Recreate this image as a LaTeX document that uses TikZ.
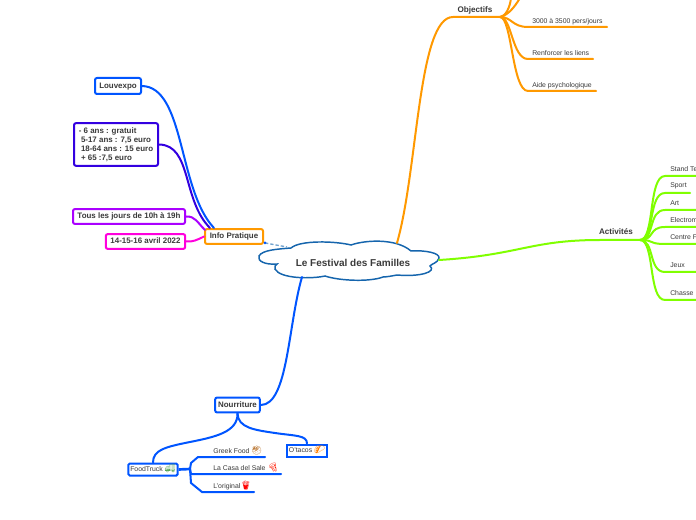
\documentclass[tikz,border=0pt]{standalone}
\usepackage{fontspec}
\setmainfont{Liberation Sans}
\newfontfamily\emojifont{Noto Emoji}
\usepackage{tikz}
\usetikzlibrary{calc, arrows.meta}
\definecolor{txtgrey}{HTML}{3A3A3A}
\definecolor{mapblue}{HTML}{0055FF}
\definecolor{mapindigo}{HTML}{3300E0}
\definecolor{mappurple}{HTML}{AA00FF}
\definecolor{mappink}{HTML}{FF00DD}
\definecolor{maporange}{HTML}{FF9900}
\definecolor{mapgreen}{HTML}{80FF00}
\definecolor{cloudblue}{HTML}{1565AD}
\newcommand{\emo}[2]{{\fontsize{6.5pt}{6pt}\emojifont\textcolor{#1}{#2}}}
\tikzset{
	topicbox/.style={draw, line width=1.5pt, rounded corners=1.5pt, fill=white, text=txtgrey, inner sep=0pt, font=\fontsize{5.95pt}{6.75pt}\selectfont\bfseries},
	onebox/.style={topicbox, text height=4.4pt, text depth=1.3pt},
	smallbox/.style={onebox, font=\fontsize{5.15pt}{6pt}\selectfont},
	branch/.style={line width=1.5pt, line cap=round},
	leaf/.style={anchor=west, inner sep=0pt, text=txtgrey, font=\fontsize{5.15pt}{6pt}\selectfont},
	headtxt/.style={inner sep=0pt, text=txtgrey, font=\fontsize{6.1pt}{6pt}\selectfont\bfseries}
}
\begin{document}
\begin{tikzpicture}[x=0.75pt, y=-0.75pt]
	\clip (0,0) rectangle (696,520);
	\fill[white] (0,0) rectangle (696,520);
	
	% cloud in the middle
	\draw[cloudblue, line width=1.1pt, fill=white] (291,248)
		.. controls (300,240) and (335,241) .. (351,245)
		.. controls (365,240) and (396,238) .. (411,251)
		.. controls (425,250) and (440,253) .. (439,258)
		.. controls (438,263) and (431,264) .. (430,266)
		.. controls (437,272) and (420,277) .. (397,275)
		.. controls (392,276) and (386,277) .. (383,277)
		.. controls (370,282) and (340,281) .. (325,276)
		.. controls (312,279) and (280,279) .. (275,269)
		.. controls (274,266) and (276,265) .. (277,264)
		.. controls (265,265) and (257,261) .. (259,256)
		.. controls (262,250) and (278,249) .. (291,248) -- cycle;
	\node[inner sep=0pt, text=txtgrey, font=\fontsize{7.5pt}{8pt}\selectfont\bfseries] (festival) at (353,263) {Le Festival des Familles};
	\coordinate (cloudtop) at (397,243);
	\coordinate (cloudright) at (439,260);
	\coordinate (cloudbottom) at (302,277);
	\coordinate (cloudleft) at (287,247);
	
	% info pratique
	\node[onebox, draw=maporange, minimum width=43.5pt, minimum height=11.2pt] (info) at (234,236.5) {Info Pratique};
	\node[onebox, draw=mapblue, minimum width=34.5pt, minimum height=12pt] (louvexpo) at (118,86) {Louvexpo};
	\node[topicbox, draw=mapindigo, minimum width=63pt, minimum height=32pt, align=left] (tarifs) at (116,144.5) {- 6 ans : gratuit\\ \ 5-17 ans : 7,5 euro\\ \ 18-64 ans : 15 euro\\ \ + 65 :7,5 euro};
	\node[onebox, draw=mappurple, minimum width=84pt, minimum height=11.2pt] (horaires) at (129,216.5) {Tous les jours de 10h à 19h};
	\node[onebox, draw=mappink, minimum width=59.5pt, minimum height=11.2pt] (dates) at (145.5,241.5) {14-15-16 avril 2022};
	
	\draw[branch, mapblue] (louvexpo.east) .. controls (185,87) and (178,190) .. (214,228);
	\draw[branch, mapindigo] (tarifs.east) .. controls (192,145) and (182,200) .. (210,228);
	\draw[branch, mappurple] (horaires.east) .. controls (195,216) and (197,222) .. (205,230);
	\draw[branch, mappink] (dates.east) .. controls (193,242) and (197,240) .. (info.west);
	\draw[line width=1pt, dash pattern=on 2.5pt off 1.5pt, draw=cloudblue!60] (info.south east) ++(1,-2) coordinate (infodot) -- (cloudleft);
	\fill[mapblue] (infodot) circle (1.5);
	
	% objectifs
	\coordinate (objhub) at (500,17);
	\node[headtxt] (objectifs) at (475,10) {Objectifs};
	\draw[branch, maporange] (cloudtop) .. controls (418,170) and (418,17) .. (453,17) -- (objhub);
	\draw[branch, maporange] (objhub) .. controls (505,17) and (510,8) .. (511,-2);
	\draw[branch, maporange] (objhub) .. controls (508,15) and (514,8) .. (520,-2);
	\foreach \name/\y/\xend/\txt in {pers/27/607/{3000 à 3500 pers/jours}, liens/59/593/Renforcer les liens, aide/91/596/Aide psychologique}
	{
		\node[leaf] (\name) at (532,\y-5.5) {\txt};
		\draw[branch, maporange] (objhub) .. controls (512,17) and (512,\y) .. (528,\y) -- (\xend,\y);
	}
	
	% activites
	\coordinate (acthub) at (640,240);
	\node[headtxt] (activites) at (616,232) {Activités};
	\draw[branch, mapgreen] (cloudright) .. controls (520,255) and (530,240) .. (600,240) -- (acthub);
	\foreach \name/\y/\xend/\txt in {stand/176/700/Stand Te, sport/193/690/Sport, art/210/700/Art, electro/227/700/Electrom, centre/244/700/Centre F, jeux/272/700/Jeux, chasse/300/700/Chasse}
	{
		\node[leaf] (\name) at (670,\y-7) {\txt};
		\draw[branch, mapgreen] (acthub) .. controls (655,240) and (648,\y) .. (665,\y) -- (\xend,\y);
	}
	
	% nourriture
	\node[onebox, draw=mapblue, minimum width=33.5pt, minimum height=11.2pt] (nourriture) at (237.5,405) {Nourriture};
	\node[smallbox, rounded corners=1pt, draw=mapblue, minimum width=37pt, minimum height=9pt] (foodtruck) at (153,469.5) {FoodTruck \emo{green!30!gray}{🚚}};
	\node[smallbox, rounded corners=0pt, draw=mapblue, minimum width=30pt, minimum height=9pt] (otacos) at (307,450.5) {O'tacos \emo{orange}{🌮}};
	
	\draw[branch, mapblue] (cloudbottom) .. controls (288,325) and (288,405) .. (nourriture.east);
	\draw[branch, mapblue] (nourriture.south) .. controls (238,432) and (215,437) .. (190,442) .. controls (165,447) and (153,450) .. (foodtruck.north);
	\draw[branch, mapblue] (nourriture.south) .. controls (238,428) and (255,430) .. (275,433) .. controls (295,436) and (307,435) .. (otacos.north);
	
	\coordinate (foodhub) at (190,469);
	\draw[mapblue, line width=2pt] (foodtruck.east) -- (foodhub);
	\node[leaf] (greek) at (213,451) {Greek Food \emo{brown}{🥙}};
	\node[leaf] (casa) at (213,468) {La Casa del Sale \emo{red!80!orange}{🍕}};
	\node[leaf] (original) at (213,486) {L'original\emo{red}{🍟}};
	\draw[branch, mapblue] (foodhub) -- (191,463) -- (198,457) -- (265,457);
	\draw[branch, mapblue] (foodhub) -- (191,474) -- (281,474);
	\draw[branch, mapblue] (foodhub) -- (191,483) -- (202,492) -- (254,492);
\end{tikzpicture}
\end{document}
